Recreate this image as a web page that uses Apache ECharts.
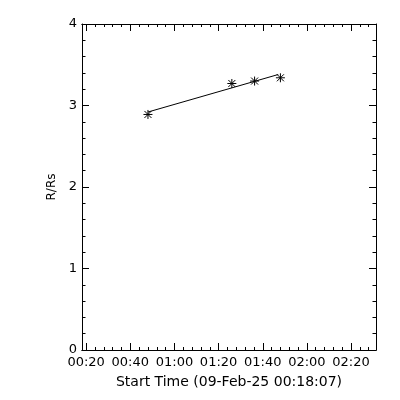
<!DOCTYPE html>
<html>
<head>
<meta charset="utf-8">
<script src="https://cdn.jsdelivr.net/npm/echarts@6/dist/echarts.min.js"></script>
<style>html,body{margin:0;padding:0;background:#fff}#c{width:400px;height:400px}</style>
</head>
<body>
<div id="c"></div>
<script>
// Times are minutes after 00:00 on 09-Feb-25
const startLabel = "Start Time (09-Feb-25 00:18:07)";
const axisStartMin = 18.117;   // 00:18:07
const axisEndMin = 151.3;
const obsTime = [48.0, 86.0, 96.3, 108.0];
const obsRadius = [2.89, 3.27, 3.30, 3.34];
const fitTime = [48.0, 107.0];
const fitRadius = [2.92, 3.38];
const xMajorTicks = [20, 40, 60, 80, 100, 120, 140];
const xTickLabels = ["00:20", "00:40", "01:00", "01:20", "01:40", "02:00", "02:20"];
const xMinorTicks = [24, 28, 32, 36, 44, 48, 52, 56, 64, 68, 72, 76, 84, 88, 92, 96, 104, 108, 112, 116, 124, 128, 132, 136, 144, 148];
const yMin = 0, yMax = 4, yStep = 1;

const FONT = 'DejaVu Sans';
const black = '#000';

function xAxisDef(pos, ticks, len, labels) {
  return {
    type: 'value', position: pos, min: axisStartMin, max: axisEndMin,
    axisLine: { show: true, onZero: false, lineStyle: { color: black, width: 1 } },
    axisTick: { show: true, inside: true, length: len, customValues: ticks, lineStyle: { color: black } },
    axisLabel: labels ? {
      show: true, customValues: xMajorTicks, color: black, fontFamily: FONT, fontSize: 13, margin: 6,
      formatter: v => xTickLabels[xMajorTicks.indexOf(Math.round(v))] || ''
    } : { show: false },
    splitLine: { show: false },
    name: labels ? startLabel : '', nameLocation: 'middle', nameGap: 25,
    nameTextStyle: { color: black, fontFamily: FONT, fontSize: 14 }
  };
}
function yAxisDef(pos, labels) {
  return {
    type: 'value', position: pos, min: yMin, max: yMax, interval: yStep,
    axisLine: { show: true, onZero: false, lineStyle: { color: black, width: 1 } },
    axisTick: { show: true, inside: true, length: 7, lineStyle: { color: black } },
    minorTick: { show: true, splitNumber: 5, length: 3.5, lineStyle: { color: black } },
    axisLabel: { show: labels, color: black, fontFamily: FONT, fontSize: 13, margin: 5 },
    splitLine: { show: false },
    name: labels ? 'R/Rs' : '', nameLocation: 'middle', nameGap: 16,
    nameTextStyle: { color: black, fontFamily: FONT, fontSize: 12 }
  };
}

const chart = echarts.init(document.getElementById('c'), null, { renderer: 'canvas' });
chart.setOption({
  backgroundColor: '#fff',
  animation: false,
  grid: { left: 82, right: 24, top: 24, bottom: 50, containLabel: false },
  xAxis: [
    xAxisDef('bottom', xMajorTicks, 7, true),
    xAxisDef('bottom', xMinorTicks, 3, false),
    xAxisDef('top', xMajorTicks, 7, false),
    xAxisDef('top', xMinorTicks, 3, false)
  ],
  yAxis: [yAxisDef('left', true), yAxisDef('right', false)],
  series: [
    {
      type: 'line', xAxisIndex: 0, yAxisIndex: 0, symbol: 'none',
      data: fitTime.map((t, i) => [t, fitRadius[i]]),
      lineStyle: { color: black, width: 1 }
    },
    {
      type: 'custom', xAxisIndex: 0, yAxisIndex: 0,
      data: obsTime.map((t, i) => [t, obsRadius[i]]),
      renderItem: function (params, api) {
        const p = api.coord([api.value(0), api.value(1)]);
        const r = 4.5, d = 3.5;
        const st = { stroke: black, lineWidth: 1 };
        const seg = (x1, y1, x2, y2) => ({ type: 'line', shape: { x1: p[0] + x1, y1: p[1] + y1, x2: p[0] + x2, y2: p[1] + y2 }, style: st });
        return { type: 'group', children: [
          seg(-r, 0, r, 0), seg(0, -r, 0, r), seg(-d, -d, d, d), seg(-d, d, d, -d)
        ] };
      }
    }
  ]
});
</script>
</body>
</html>
